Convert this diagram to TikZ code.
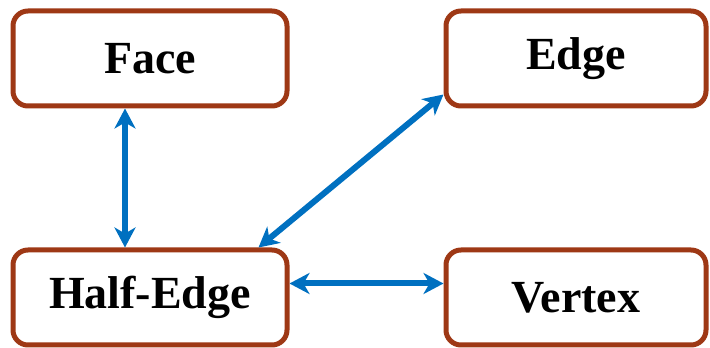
\documentclass[tikz,border=0pt]{standalone}
\usepackage{fontspec}
\setmainfont{Liberation Serif}
\usetikzlibrary{arrows.meta}
\definecolor{boxbrown}{HTML}{9E3815}
\definecolor{arrblue}{HTML}{0070C0}
\begin{document}
\begin{tikzpicture}[x=1pt,y=1pt,
  box/.style={draw=boxbrown,line width=5pt,rounded corners=15pt,fill=white,
    minimum height=95pt,inner sep=0pt,font=\fontsize{46}{52}\selectfont\bfseries},
  conn/.style={draw=arrblue,line width=6pt,
    {Stealth[length=20pt,width=21pt,inset=6pt]}-{Stealth[length=20pt,width=21pt,inset=6pt]}}]
\useasboundingbox (0,0) rectangle (710,348);
\node[box,minimum width=274pt] (f) at (150,289.5) {Face};
\node[box,minimum width=260pt] (e) at (576,289.5) {Edge};
\node[box,minimum width=274pt] (h) at (150,50.5) {Half-Edge};
\node[box,minimum width=260pt] (v) at (576,50.5) {Vertex};
\draw[conn] ([xshift=-25pt]f.south) -- ([xshift=-25pt]h.north);
\draw[conn] ([xshift=-31pt]h.north east) -- ([yshift=14pt]e.south west);
\draw[conn] ([yshift=14pt]h.east) -- ([yshift=14pt]v.west);
\end{tikzpicture}
\end{document}
